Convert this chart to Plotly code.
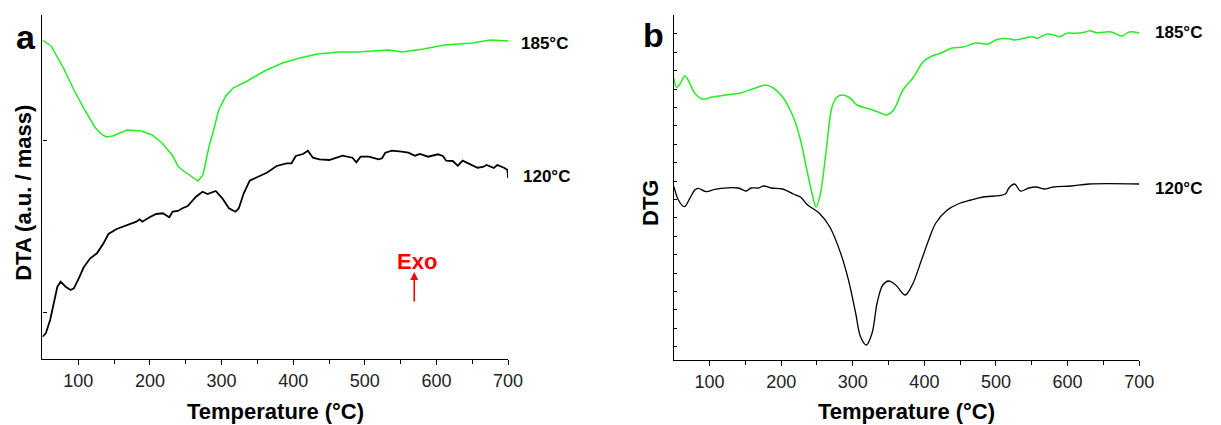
import plotly.graph_objects as go

# ---------------- data (arbitrary units) ----------------
# Panel a : DTA
dta_185_t = [50, 62, 80, 94, 109, 124, 134, 139, 148, 168, 188, 203, 217, 232, 239, 245, 257, 264, 267,
             274, 278, 283, 289, 296, 306, 316, 336, 360, 385, 409, 434, 464, 488, 533, 552, 582, 611,
             651, 675, 700]
dta_185_v = [319, 313, 290, 269, 249, 231, 224, 222, 223, 229, 228, 224, 216, 203, 193, 189, 183, 179, 178,
             184, 197, 214, 229, 249, 263, 271, 278, 288, 296, 301, 305, 307, 307, 309, 307, 310, 314,
             316, 319, 318]

dta_120_t = [50, 54.7, 60.7, 66.2, 70.8, 75.4, 82.3, 89.2, 93.8, 100.7, 107.6, 116.7, 126, 135.2, 142.1,
             153.6, 167.3, 181.1, 185.7, 189.4, 199.5, 208.7, 218, 227, 231.7, 239, 245.5, 252.8, 264.3,
             273.5, 280.4, 291.9, 301.1, 310.3, 319.4, 324.1, 331, 339.3, 349.4, 363.1, 376.9, 390.7,
             397.6, 403.6, 413.7, 420.6, 427.5, 436.7, 450.4, 468.9, 482.7, 488.2, 494.1, 505.6, 519.4,
             524, 528.6, 537.8, 551.6, 560.8, 570, 576.9, 588.3, 602.1, 609, 613.6, 622.8, 629.7, 636.6,
             648.1, 657.3, 665, 670, 680, 685, 695, 699, 700]
dta_120_v = [22.3, 25.7, 39, 59, 72.3, 77.3, 72.3, 69, 70.7, 80.7, 91.7, 100.7, 105.7, 115.7, 125,
             130, 134, 137.3, 139.7, 137.3, 141.7, 145, 145.7, 141.7, 147.3, 148, 150.7, 153, 162.3,
             167.3, 165, 168, 160.7, 150.7, 147.3, 150.7, 165.7, 178.3, 181.7, 186.3, 193, 195.7,
             195.7, 203, 205, 208.3, 201.3, 199.7, 199, 203.3, 201.3, 196.7, 202.3, 202.3, 199.7,
             200.7, 206.3, 208.3, 207.3, 206.3, 203.3, 205, 202.3, 204.7, 203, 198.3, 198, 193.3, 198.3,
             194.7, 191.3, 192, 194, 191, 194, 191, 189, 181]

# Panel b : DTG
dtg_185_t = [50.4, 54.1, 58.7, 65.6, 72.5, 79.4, 91, 102.4, 116.2, 143, 156, 168, 179, 189, 202, 217, 227,
             235, 243, 249, 255, 263, 271, 278, 286, 296, 306, 324, 339, 347, 357, 370, 385, 398, 408,
             423, 439, 454, 472, 488.6, 502.4, 520.8, 525.4, 539.2, 550.6, 557.5, 571.3, 580.6, 588.9,
             598.9, 612.7, 626.5, 631.1, 640.3, 661, 676, 686, 700]
dtg_185_v = [281.7, 272.7, 276, 284, 276.7, 266.7, 260.7, 262.7, 264.3, 267, 270, 273, 275, 272, 263, 243, 220,
             193, 167, 153, 167, 210, 253, 263, 265, 262, 255, 251, 247, 245, 250, 270, 283, 298, 303,
             307, 312, 313, 317, 316, 320.7, 321, 320, 321.7, 323.3, 321.7, 326, 325, 323.3,
             326.7, 326.7, 328.3, 329.3, 327.3, 328, 324, 328, 327]

dtg_120_t = [50.4, 56.5, 64.8, 72.5, 79.4, 84.1, 95.5, 107, 116.2, 140, 151, 158, 168, 176, 186, 202, 217,
             227, 237, 253, 268, 283, 294, 304, 311, 319, 327, 334, 342, 350, 360, 373, 383, 396, 406,
             416, 432, 447, 465, 482, 513, 518, 526, 534, 546, 556, 567, 580, 605, 630, 700]
dtg_120_v = [173.3, 160, 153.3, 161.7, 170, 171.7, 168.3, 170.7, 171.7, 172, 169, 172, 172, 174, 172, 171, 166,
             163, 155, 147, 133, 107, 80, 47, 23, 15, 27, 57, 75, 79, 75, 65, 75, 100, 120,
             137, 150, 156, 160, 163, 166, 172, 176, 169, 172, 173, 171, 173, 174, 176, 176]

x_ticks = [100, 200, 300, 400, 500, 600, 700]
series_labels = ["185°C", "120°C"]

# ---------------- figure ----------------
W, H = 1221, 425
OFF = 8  # default page (body) margin of the written HTML
GREEN = "#22EE22"
FONT = "Liberation Sans, Arial, sans-serif"


def px(x):
    return (x - OFF) / W


def py(y):
    return 1 - (y - OFF) / H


fig = go.Figure()
fig.add_trace(go.Scatter(x=dta_185_t, y=dta_185_v, mode="lines", line=dict(color=GREEN, width=1.5),
                         xaxis="x", yaxis="y", showlegend=False))
fig.add_trace(go.Scatter(x=dta_120_t, y=dta_120_v, mode="lines", line=dict(color="black", width=1.8),
                         xaxis="x", yaxis="y", showlegend=False))
fig.add_trace(go.Scatter(x=dtg_185_t, y=dtg_185_v, mode="lines", line=dict(color=GREEN, width=1.5, shape="spline"),
                         xaxis="x2", yaxis="y2", showlegend=False))
fig.add_trace(go.Scatter(x=dtg_120_t, y=dtg_120_v, mode="lines", line=dict(color="black", width=1.3, shape="spline"),
                         xaxis="x2", yaxis="y2", showlegend=False))

xcommon = dict(range=[50, 700], showline=True, linecolor="black", linewidth=1.3, ticks="outside",
               ticklen=5, tickwidth=1, tickcolor="black", tickvals=x_ticks, showgrid=False, zeroline=False,
               tickfont=dict(family=FONT, size=18, color="#222"),
               minor=dict(tickvals=[150, 250, 350, 450, 550, 650], ticks="outside", ticklen=4,
                          tickcolor="black", tickwidth=1, showgrid=False))
ycommon = dict(showline=True, linecolor="black", linewidth=1.3, ticks="inside", tickcolor="black",
               tickwidth=1, showticklabels=False, showgrid=False, zeroline=False)

fig.update_layout(
    width=W, height=H, margin=dict(l=0, r=0, t=0, b=0),
    plot_bgcolor="white", paper_bgcolor="white",
    xaxis=dict(domain=[px(42.9), px(514.3)], anchor="y", **xcommon),
    yaxis=dict(domain=[py(359), py(15)], range=[0, 344], anchor="x", tick0=47, dtick=172, ticklen=4, **ycommon),
    xaxis2=dict(domain=[px(682), px(1153.3)], anchor="y2", **xcommon),
    yaxis2=dict(domain=[py(360), py(15)], range=[0, 345], anchor="x2", tick0=13.3, dtick=18.4, ticklen=3,
                **ycommon),
)

ann = []


def text(t, x, y, size, color="black", bold=True, angle=0, xanchor="center"):
    ann.append(dict(text=f"<b>{t}</b>" if bold else t, x=px(x), y=py(y), xref="paper", yref="paper",
                    showarrow=False, xanchor=xanchor, yanchor="middle", textangle=angle,
                    font=dict(family=FONT, size=size, color=color)))


text("a", 25.9, 37, 34)
text("b", 661.7, 35, 34)
text("Temperature (°C)", 279, 411, 22)
text("Temperature (°C)", 917.7, 411, 22)
text("DTA (a.u. / mass)", 23.5, 192.5, 22, angle=-90)
text("DTG", 659, 203, 22, angle=-90)
text(series_labels[0], 525, 43.3, 17, xanchor="left")
text(series_labels[1], 527, 176.7, 17, xanchor="left")
text(series_labels[0], 1167, 32.3, 17, xanchor="left")
text(series_labels[1], 1167, 188.3, 17, xanchor="left")
text("Exo", 421.7, 261, 22, color="red")
ann.append(dict(text="", x=px(419.3), y=py(272), xref="paper", yref="paper", showarrow=True,
                ax=0, ay=31, arrowhead=2, arrowsize=1, arrowwidth=1.6, arrowcolor="red"))
fig.update_layout(annotations=ann)

fig.write_html("out.html")
